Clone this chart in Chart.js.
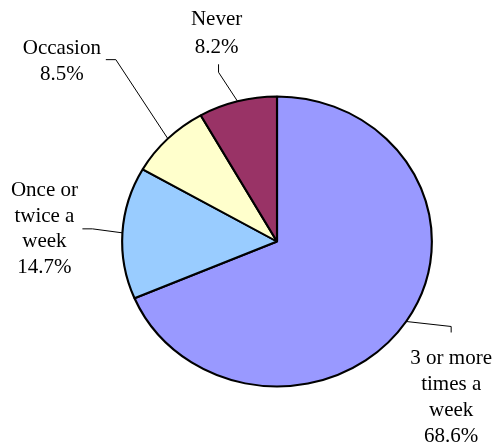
<!DOCTYPE html>
<html>
<head>
<meta charset="utf-8">
<script src="https://cdn.jsdelivr.net/npm/chart.js@4/dist/chart.umd.min.js"></script>
<style>
  html, body { margin: 0; padding: 0; background: #ffffff; }
  #wrap { width: 497px; height: 445px; }
</style>
</head>
<body>
<div id="wrap"><canvas id="freqChart" width="497" height="445"></canvas></div>
<script>
// Exercise frequency shares (percent)
const categories = [
  ["3 or more", "times a", "week"],
  ["Once or", "twice a", "week"],
  ["Occasion"],
  ["Never"],
];
const shares = [68.6, 14.7, 8.5, 8.2];
const sliceColors = ["#9999ff", "#99ccff", "#ffffcc", "#993366"];

// pie is drawn a bit wider than tall
const STRETCH_X = 1.068;
const LABEL_FONT = '21px "Liberation Serif", "Times New Roman", Times, serif';

// where each callout sits, relative to the point on the rim at the slice middle
// elbow / tail: leader line bends, text: [centre x, first baseline y]
const calloutLayout = [
  { elbow: [45, 5], tail: [45, 11], text: [45, 43], lineH: 25.7 },
  { elbow: [-30, -4], tail: [-40, -4], text: [-78, -37], lineH: 25.8 },
  { elbow: [-52, -79], tail: [-62, -79], text: [-106, -85], lineH: 26.3 },
  { elbow: [-19, -29], tail: [-19, -37], text: [-21, -76], lineH: 27.5 },
];

const stretchPie = {
  id: "stretchPie",
  beforeDatasetsDraw(chart) {
    const arc = chart.getDatasetMeta(0).data[0];
    const ctx = chart.ctx;
    ctx.save();
    ctx.translate(arc.x, arc.y);
    ctx.scale(STRETCH_X, 1);
    ctx.translate(-arc.x, -arc.y);
  },
  afterDatasetsDraw(chart) {
    chart.ctx.restore();
  },
};

const callouts = {
  id: "callouts",
  afterDraw(chart) {
    const ctx = chart.ctx;
    const arcs = chart.getDatasetMeta(0).data;
    ctx.save();
    ctx.font = LABEL_FONT;
    ctx.textAlign = "center";
    ctx.textBaseline = "alphabetic";
    ctx.fillStyle = "#000000";
    ctx.strokeStyle = "#000000";
    ctx.lineWidth = 1;
    arcs.forEach((arc, i) => {
      const mid = (arc.startAngle + arc.endAngle) / 2;
      const ex = arc.x + Math.cos(mid) * arc.outerRadius * STRETCH_X;
      const ey = arc.y + Math.sin(mid) * arc.outerRadius;
      const lay = calloutLayout[i];

      ctx.beginPath();
      ctx.moveTo(ex, ey);
      ctx.lineTo(ex + lay.elbow[0], ey + lay.elbow[1]);
      ctx.lineTo(ex + lay.tail[0], ey + lay.tail[1]);
      ctx.stroke();

      const lines = categories[i].concat([shares[i].toFixed(1) + "%"]);
      lines.forEach((txt, j) => {
        ctx.fillText(txt, ex + lay.text[0], ey + lay.text[1] + j * lay.lineH);
      });
    });
    ctx.restore();
  },
};

const drawChart = () => {
  new Chart(document.getElementById("freqChart"), {
    type: "pie",
    data: {
      labels: categories.map((c) => c.join(" ")),
      datasets: [
        {
          data: shares,
          backgroundColor: sliceColors,
          borderColor: "#000000",
          borderWidth: 2,
          clip: false,
        },
      ],
    },
    options: {
      responsive: false,
      animation: false,
      events: [],
      layout: {
        padding: { top: 95, bottom: 57, left: 131, right: 74 },
      },
      plugins: {
        legend: { display: false },
        tooltip: { enabled: false },
      },
    },
    plugins: [stretchPie, callouts],
  });
};

// make sure the serif face is ready before the canvas text is drawn
document.fonts.load(LABEL_FONT).then(drawChart, drawChart);
</script>
</body>
</html>
